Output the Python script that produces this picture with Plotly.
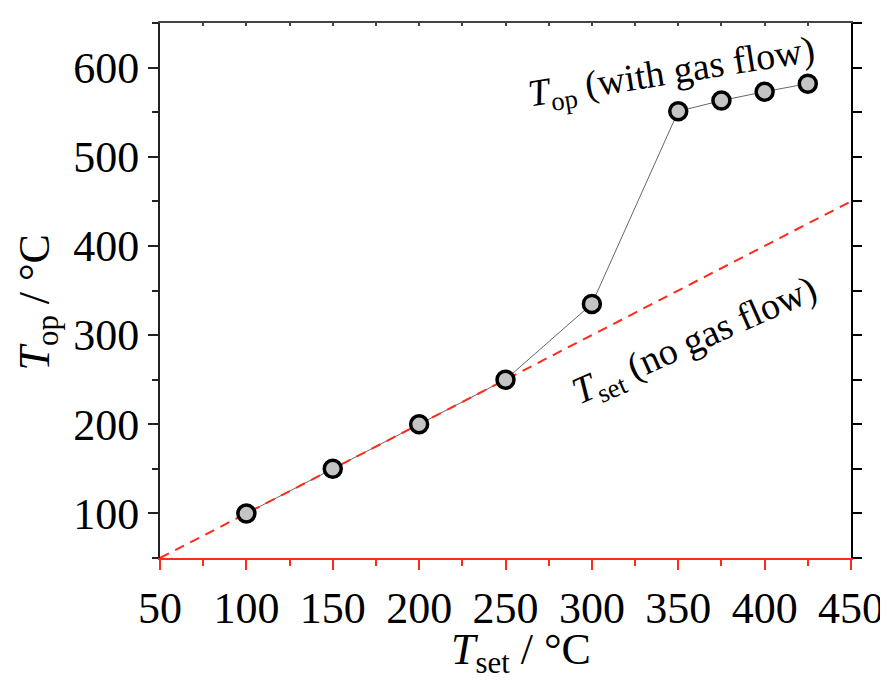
import plotly.graph_objects as go

t_set = [100, 150, 200, 250, 300, 350, 375, 400, 425]
t_op = [100, 150, 200, 250, 335, 551, 563, 573, 582]
ref_x = [50, 450]
ref_y = [50, 450]

FONT = "Liberation Serif, Times New Roman, serif"

fig = go.Figure()
fig.add_trace(go.Scatter(x=t_set, y=t_op, mode="lines",
                         line=dict(color="#666666", width=1), showlegend=False))
fig.add_trace(go.Scatter(x=ref_x, y=ref_y, mode="lines",
                         line=dict(color="#ff2a1a", width=2, dash="10px,7px"), showlegend=False))
fig.add_trace(go.Scatter(x=t_set, y=t_op, mode="markers",
                         marker=dict(size=17, color="#c4c4c4", line=dict(color="black", width=3.5)),
                         showlegend=False))
# dummy trace to activate the mirror axes
fig.add_trace(go.Scatter(x=[None], y=[None], xaxis="x2", yaxis="y2", showlegend=False, hoverinfo="skip"))

fig.update_layout(
    width=888, height=682,
    margin=dict(l=152, r=33, t=15, b=132),
    paper_bgcolor="white", plot_bgcolor="white",
    font=dict(family=FONT, size=38, color="black"),
    xaxis=dict(range=[50, 450], dtick=50, tick0=50, showgrid=False, zeroline=False,
               showline=True, linecolor="#ff2a1a", linewidth=2,
               ticks="outside", ticklen=10, tickwidth=2, tickcolor="#ff2a1a",
               minor=dict(dtick=25, ticks="outside", ticklen=6, tickwidth=2, tickcolor="#ff2a1a"),
               tickfont=dict(size=44)),
    xaxis2=dict(range=[50, 450], overlaying="x", side="top", matches="x", anchor="y",
                showgrid=False, zeroline=False, showline=True, linecolor="#444444", linewidth=2,
                showticklabels=False, dtick=25, tick0=50,
                ticks="inside", ticklen=3, tickwidth=1.5, tickcolor="#444444"),
    yaxis=dict(range=[50, 650], dtick=100, tick0=100, showgrid=False, zeroline=False,
               showline=True, linecolor="#222222", linewidth=2,
               ticks="outside", ticklen=10, tickwidth=2, tickcolor="#222222",
               minor=dict(dtick=50, tick0=50, ticks="outside", ticklen=6, tickwidth=2, tickcolor="#222222"),
               tickfont=dict(size=44)),
    yaxis2=dict(range=[50, 650], overlaying="y", side="right", matches="y", anchor="x",
                showgrid=False, zeroline=False, showline=True, linecolor="black", linewidth=2,
                showticklabels=False, dtick=50, tick0=50,
                ticks="outside", ticklen=9, tickwidth=2, tickcolor="black"),
    annotations=[
        dict(x=346, y=593, xref="x", yref="y", showarrow=False, textangle=-9,
             text="<i>T</i><sub>op</sub> (with gas flow)", font=dict(size=38, family=FONT)),
        dict(x=360, y=292, xref="x", yref="y", showarrow=False, textangle=-24,
             text="<i>T</i><sub>set</sub> (no gas flow)", font=dict(size=38, family=FONT)),
        dict(x=259, y=0, xref="x", yref="paper", yshift=-94, showarrow=False,
             xanchor="center", yanchor="middle",
             text="<i>T</i><sub>set</sub> / °C", font=dict(size=44, family=FONT)),
        dict(x=0, y=0.5, xref="paper", yref="paper", xshift=-123, yshift=-12, showarrow=False,
             xanchor="center", yanchor="middle", textangle=-90,
             text="<i>T</i><sub>op</sub> / °C", font=dict(size=44, family=FONT)),
    ],
)

fig.write_html("out.html")
